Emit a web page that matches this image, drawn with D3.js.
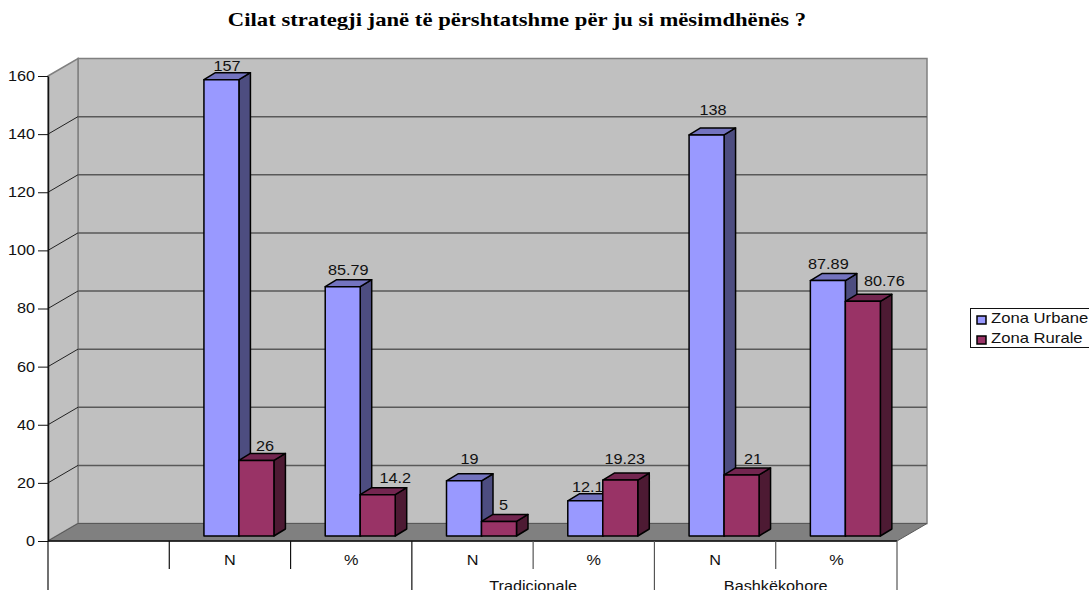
<!DOCTYPE html>
<html lang="en">
<head>
    <meta charset="UTF-8">
    <title>Cilat strategji</title>
    <script src="https://cdn.jsdelivr.net/npm/d3@7/dist/d3.min.js"></script>
    <style>
        html, body { margin: 0; padding: 0; background: #fff; overflow: hidden; }
        svg { display: block; }
    </style>
</head>
<body>
<script>
    const title = 'Cilat strategji janë të përshtatshme për ju si mësimdhënës ?';
    const seriesNames = ['Zona Urbane', 'Zona Rurale'];
    const categories = ['', 'N', '%', 'N', '%', 'N', '%'];
    const groups = [
        {label: '', from: 0, to: 3},
        {label: 'Tradicionale', from: 3, to: 5},
        {label: 'Bashkëkohore', from: 5, to: 7}
    ];
    const urban = [null, 157, 85.79, 19, 12.1, 138, 87.89];
    const rural = [null, 26, 14.2, 5, 19.23, 21, 80.76];
    const yTicks = [0, 20, 40, 60, 80, 100, 120, 140, 160];

    // label shifts by hand, the source chart nudged them around
    const urbanNudge = [null, [0, 2], [0, 5], [0, 10], [-3, 2], [1, 13], [-5, 5]];
    const ruralNudge = [null, [3, 2], [12, 5], [-1, 4], [-1, 9], [6, 4], [16, 8]];

    const width = 1089, height = 590;
    const left = 48, right = 897, y0 = 541, y160 = 76;
    const depthX = 30, depthY = 17.5;       // wall depth
    const barDepthX = 11.5, barDepthY = 7;  // bar depth
    const barShiftX = 9, barShiftY = 5;     // bars stand a bit inside the floor
    const wide = 1.16;                      // the source picture was stretched sideways

    const colors = {
        urban: {front: '#9999ff', side: '#4d4d80', top: '#7373bf'},
        rural: {front: '#993366', side: '#4d1a33', top: '#732650'}
    };

    const svg = d3.select('body').append('svg')
        .attr('width', width)
        .attr('height', height)
        .style('font-family', '"Liberation Sans", Arial, sans-serif');

    const x = d3.scaleBand().domain(d3.range(categories.length)).range([left, right]);
    const x1 = d3.scaleBand().domain(seriesNames).range([0, x.bandwidth()])
        .paddingInner(0).paddingOuter(0.733);
    const y = d3.scaleLinear().domain([0, 160]).range([y0, y160]);

    const poly = pts => pts.map(p => p.join(',')).join(' ');
    const stretch = (px, py, k = wide) => `translate(${px},${py}) scale(${k},1)`;

    svg.append('text')
        .attr('transform', stretch(517, 26, 1.26))
        .attr('text-anchor', 'middle')
        .style('font', 'bold 18px "Liberation Serif", serif')
        .text(title);

    // walls
    svg.append('polygon')
        .attr('points', poly([[left + depthX, y(160) - depthY], [right + depthX, y(160) - depthY],
            [right + depthX, y0 - depthY], [left + depthX, y0 - depthY]]))
        .attr('fill', '#c0c0c0')
        .attr('stroke', '#808080')
        .attr('stroke-width', 1.5);
    svg.append('polygon')
        .attr('points', poly([[left, y(160)], [left + depthX, y(160) - depthY],
            [left + depthX, y0 - depthY], [left, y0]]))
        .attr('fill', '#c0c0c0')
        .attr('stroke', '#808080')
        .attr('stroke-width', 1.5);

    // gridlines, back wall and side wall
    const grid = yTicks.filter(d => d > 0 && d < 160);
    svg.append('g').selectAll('line').data(grid).enter().append('line')
        .attr('x1', left + depthX)
        .attr('x2', right + depthX)
        .attr('y1', d => y(d) - depthY)
        .attr('y2', d => y(d) - depthY)
        .attr('stroke', '#595959')
        .attr('stroke-width', 1.5);
    svg.append('g').selectAll('line').data(grid).enter().append('line')
        .attr('x1', left)
        .attr('x2', left + depthX)
        .attr('y1', d => y(d))
        .attr('y2', d => y(d) - depthY)
        .attr('stroke', '#222')
        .attr('stroke-width', 1);

    // floor
    svg.append('polygon')
        .attr('points', poly([[left, y0], [right, y0], [right + depthX, y0 - depthY], [left + depthX, y0 - depthY]]))
        .attr('fill', '#808080')
        .attr('stroke', '#595959')
        .attr('stroke-width', 1);

    // bars
    const bars = [];
    categories.forEach((c, i) => {
        if (urban[i] !== null) bars.push({i, name: seriesNames[0], v: urban[i], c: colors.urban, n: urbanNudge[i]});
        if (rural[i] !== null) bars.push({i, name: seriesNames[1], v: rural[i], c: colors.rural, n: ruralNudge[i]});
    });

    const bar = svg.append('g').selectAll('g').data(bars).enter().append('g')
        .attr('stroke', '#000')
        .attr('stroke-width', 1.5)
        .attr('stroke-linejoin', 'round');

    const bx0 = d => x(d.i) + x1(d.name) + barShiftX;
    const bx1 = d => bx0(d) + x1.bandwidth();
    const base = y0 - barShiftY;
    const barTop = d => y(d.v) - barShiftY;

    bar.append('polygon')
        .attr('fill', d => d.c.side)
        .attr('points', d => poly([[bx1(d), barTop(d)], [bx1(d) + barDepthX, barTop(d) - barDepthY],
            [bx1(d) + barDepthX, base - barDepthY], [bx1(d), base]]));
    bar.append('polygon')
        .attr('fill', d => d.c.top)
        .attr('points', d => poly([[bx0(d), barTop(d)], [bx0(d) + barDepthX, barTop(d) - barDepthY],
            [bx1(d) + barDepthX, barTop(d) - barDepthY], [bx1(d), barTop(d)]]));
    bar.append('rect')
        .attr('fill', d => d.c.front)
        .attr('x', bx0)
        .attr('y', barTop)
        .attr('width', x1.bandwidth())
        .attr('height', d => base - barTop(d));

    // value labels
    svg.append('g').selectAll('text').data(bars).enter().append('text')
        .attr('transform', d => stretch(bx0(d) + x1.bandwidth() / 2 + 5.5 + d.n[0], barTop(d) - barDepthY - d.n[1]))
        .attr('text-anchor', 'middle')
        .attr('font-size', 14)
        .attr('fill', '#111')
        .text(d => d.v);

    // y axis
    const yAxis = svg.append('g')
        .attr('transform', `translate(${left},0)`)
        .call(d3.axisLeft(y).tickValues(yTicks).tickSize(10).tickPadding(3).tickSizeOuter(0));
    yAxis.select('.domain').attr('stroke', '#111').attr('stroke-width', 1.5);
    yAxis.selectAll('.tick line').attr('stroke', '#111');
    yAxis.selectAll('.tick text')
        .attr('x', -13 / wide)
        .attr('transform', `scale(${wide},1)`)
        .attr('font-size', 14)
        .attr('font-family', '"Liberation Sans", Arial, sans-serif')
        .attr('fill', '#111');

    // category axis with the two level table underneath
    const edge = i => i < categories.length ? x(i) : right;
    const isLong = i => groups.some(g => g.from === i || g.to === i);
    const axisBottom = svg.append('g');
    axisBottom.append('line')
        .attr('x1', left).attr('x2', right)
        .attr('y1', y0).attr('y2', y0)
        .attr('stroke', '#111').attr('stroke-width', 1.5);
    axisBottom.selectAll('.sep').data(d3.range(categories.length + 1)).enter().append('line')
        .attr('class', 'sep')
        .attr('x1', edge).attr('x2', edge)
        .attr('y1', y0)
        .attr('y2', i => isLong(i) ? height : y0 + 28)
        .attr('stroke', i => i <= 3 ? '#111' : '#555')
        .attr('stroke-width', 1.2);
    axisBottom.selectAll('.cat').data(categories).enter().append('text')
        .attr('transform', (d, i) => stretch(x(i) + x.bandwidth() / 2, y0 + 24))
        .attr('text-anchor', 'middle')
        .attr('font-size', 14)
        .attr('fill', '#111')
        .text(d => d);
    axisBottom.selectAll('.grp').data(groups).enter().append('text')
        .attr('transform', d => stretch((edge(d.from) + edge(d.to)) / 2, 591))
        .attr('text-anchor', 'middle')
        .attr('font-size', 14)
        .attr('fill', '#111')
        .text(d => d.label);

    // legend
    const legend = svg.append('g').attr('transform', 'translate(970,308)');
    legend.append('rect')
        .attr('x', 0.5).attr('y', 0.5)
        .attr('width', 125).attr('height', 39)
        .attr('fill', '#fff').attr('stroke', '#111');
    const item = legend.selectAll('g').data(seriesNames).enter().append('g')
        .attr('transform', (d, i) => `translate(7,${8 + i * 20})`);
    item.append('rect')
        .attr('width', 9).attr('height', 8)
        .attr('stroke', '#000').attr('stroke-width', 1.5)
        .attr('fill', (d, i) => i === 0 ? colors.urban.front : colors.rural.front);
    item.append('text')
        .attr('transform', stretch(14, 7, 1.19))
        .attr('font-size', 14)
        .attr('fill', '#111')
        .text(d => d);
</script>
</body>
</html>
